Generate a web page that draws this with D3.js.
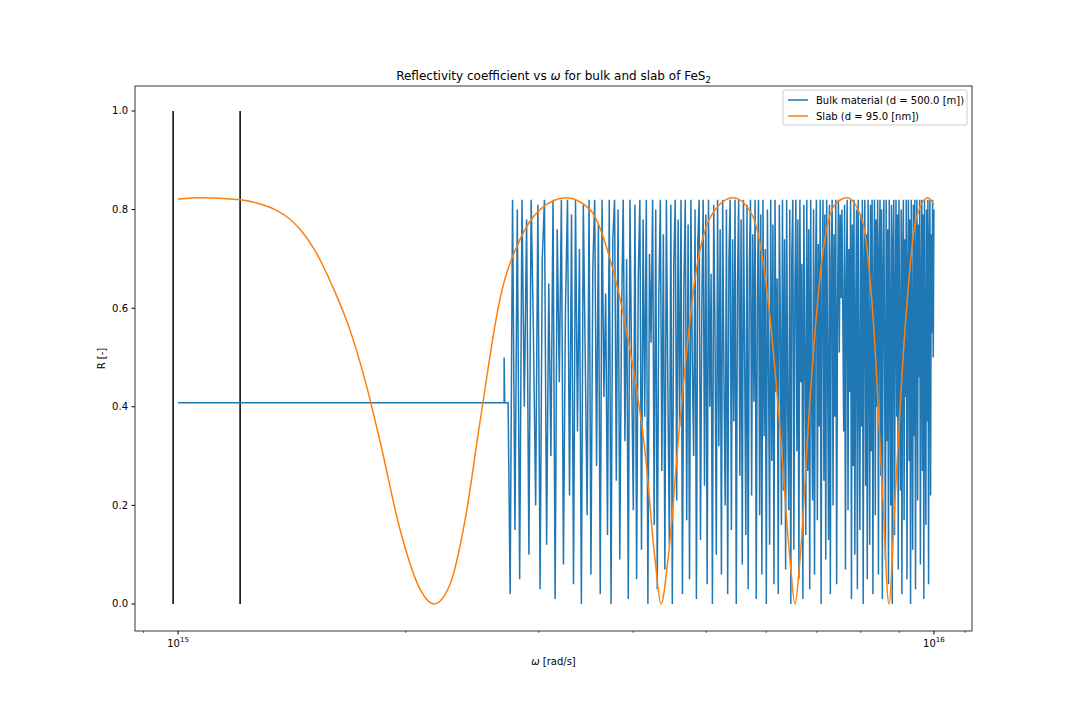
<!DOCTYPE html>
<html><head><meta charset="utf-8">
<script src="https://cdn.jsdelivr.net/npm/d3@7"></script>
<style>body{margin:0;background:#fff;font-family:"DejaVu Sans",sans-serif;}</style>
</head><body>
<svg id="chart" width="1080" height="720"></svg>
<script>
// slab curve, omega in 1e15 rad/s
var slabW = [1.00,1.069,1.208,1.28,1.344,1.40,1.450,1.52,1.60,1.689,1.77,1.850,1.967,2.090,2.18,2.290,2.397,2.509,2.667,2.835,3.012,3.261,3.508,3.728,3.963,4.147,4.276,4.355,4.448,4.613,4.830,5.085,5.423,5.745,6.031,6.257,6.450,6.549,6.650,6.855,7.111,7.396,7.672,8.032,8.330,8.562,8.720,8.880,9.155,9.467,9.818,10.0];
var slabR = [0.821,0.824,0.820,0.812,0.800,0.783,0.760,0.715,0.645,0.555,0.45,0.33,0.15,0.03,0.0,0.04,0.17,0.37,0.62,0.74,0.80,0.824,0.80,0.70,0.515,0.31,0.09,0.0,0.09,0.37,0.66,0.79,0.824,0.79,0.62,0.355,0.09,0.0,0.09,0.415,0.70,0.81,0.824,0.78,0.555,0.21,0.0,0.21,0.555,0.78,0.824,0.81];
// bulk: flat part then oscillating part
var bulkFlatW = [1.00, 2.70, 2.70, 2.705, 2.733];
var bulkFlatR = [0.408, 0.408, 0.50, 0.408, 0.408];
var bulkNoiseStart = 2.75, bulkNoiseEnd = 10.0;
var bulkNoiseR = [
0.02,0.82,0.15,0.80,0.05,0.82,0.40,0.78,0.10,0.82,0.55,0.20,0.81,0.03,0.70,0.82,0.12,0.65,0.30,0.82,
0.01,0.76,0.45,0.82,0.08,0.60,0.82,0.22,0.79,0.04,0.82,0.35,0.72,0.00,0.81,0.50,0.18,0.82,0.06,0.68,
0.82,0.28,0.77,0.02,0.82,0.42,0.63,0.14,0.82,0.00,0.74,0.82,0.25,0.80,0.09,0.58,0.82,0.33,0.70,0.01,
0.82,0.47,0.19,0.81,0.05,0.66,0.82,0.11,0.78,0.38,0.82,0.00,0.71,0.53,0.82,0.16,0.80,0.03,0.62,0.82,
0.27,0.75,0.07,0.82,0.44,0.12,0.81,0.00,0.69,0.82,0.21,0.78,0.36,0.82,0.02,0.64,0.82,0.17,0.77,0.05,
0.82,0.49,0.30,0.80,0.01,0.73,0.82,0.13,0.60,0.82,0.24,0.79,0.04,0.82,0.40,0.67,0.00,0.81,0.55,0.10,
0.82,0.32,0.76,0.06,0.82,0.46,0.20,0.80,0.02,0.70,0.82,0.15,0.74,0.37,0.82,0.00,0.65,0.82,0.26,0.78,
0.08,0.82,0.51,0.14,0.81,0.03,0.68,0.82,0.22,0.75,0.41,0.82,0.01,0.61,0.82,0.18,0.79,0.06,0.82,0.34,
0.72,0.00,0.80,0.48,0.12,0.82,0.29,0.77,0.04,0.82,0.43,0.66,0.02,0.81,0.57,0.16,0.82,0.23,0.74,0.07,
0.82,0.39,0.19,0.80,0.00,0.71,0.82,0.11,0.63,0.82,0.31,0.78,0.05,0.82,0.45,0.69,0.01,0.81,0.52,0.14,
0.82,0.27,0.76,0.03,0.82,0.42,0.21,0.80,0.06,0.67,0.82,0.17,0.73,0.36,0.82,0.00,0.64,0.82,0.25,0.79,
0.09,0.82,0.50,0.13,0.81,0.02,0.70,0.82,0.20,0.75,0.38,0.82,0.04,0.60,0.82,0.51,0.79,0.62,0.80,0.58,
0.35,0.81,0.07,0.66,0.82,0.19,0.72,0.43,0.82,0.01,0.77,0.28,0.82,0.10,0.58,0.80,0.03,0.82,0.47,0.15,
0.79,0.36,0.82,0.00,0.69,0.82,0.24,0.75,0.05,0.82,0.53,0.12,0.81,0.31,0.82,0.02,0.63,0.82,0.18,0.78,
0.40,0.82,0.06,0.71,0.82,0.26,0.80,0.01,0.67,0.82,0.45,0.09,0.82,0.33,0.76,0.04,0.82,0.56,0.20,0.81,
0.00,0.73,0.82,0.14,0.62,0.82,0.38,0.79,0.07,0.82,0.49,0.23,0.80,0.02,0.70,0.82,0.17,0.74,0.42,0.82,
0.05,0.65,0.82,0.29,0.78,0.00,0.82,0.52,0.11,0.81,0.34,0.82,0.03,0.68,0.82,0.21,0.77,0.46,0.82,0.08,
0.61,0.82,0.27,0.79,0.01,0.82,0.44,0.16,0.80,0.37,0.82,0.04,0.72,0.82,0.22,0.75,0.55,0.82,0.50,0.80];
var vLinesW = [0.985, 1.208];
var yTicks = [0, 0.2, 0.4, 0.6, 0.8, 1.0];
var minorTicks = [2,3,4,5,6,7,8,9];

var svg = d3.select('#chart');
var L = 135, R = 972, T = 86, B = 631;
var x = d3.scaleLog().domain([0.877, 11.23]).range([L, R]);
var y = d3.scaleLinear().domain([-0.0548, 1.0507]).range([B, T]);

var plot = svg.append('g');
plot.append('defs').append('clipPath').attr('id','clip').append('rect')
	.attr('x',L).attr('y',T).attr('width',R-L).attr('height',B-T);
var area = plot.append('g').attr('clip-path','url(#clip)');

// black vertical lines
area.selectAll('line.v').data(vLinesW).enter().append('line')
	.attr('x1',function(a){return x(a);}).attr('x2',function(a){return x(a);})
	.attr('y1',y(0)).attr('y2',y(1)).attr('stroke','#000').attr('stroke-width',1.5);

var line = d3.line().x(function(d){return x(d[0]);}).y(function(d){return y(d[1]);});
var bulk = bulkFlatW.map(function(w,i){return [w, bulkFlatR[i]];});
var step = (bulkNoiseEnd - bulkNoiseStart) / (bulkNoiseR.length - 1);
bulkNoiseR.forEach(function(r,i){ bulk.push([bulkNoiseStart + i*step, r]); });
area.append('path').attr('d', line(bulk)).attr('fill','none')
	.attr('stroke','#1f77b4').attr('stroke-width',1.5);

var slab = slabW.map(function(w,i){return [w, slabR[i]];});
area.append('path').attr('d', line.curve(d3.curveMonotoneX)(slab)).attr('fill','none')
	.attr('stroke','#ff7f0e').attr('stroke-width',1.5);

// axes frame
svg.append('rect').attr('x',L).attr('y',T).attr('width',R-L).attr('height',B-T)
	.attr('fill','none').attr('stroke','#000').attr('stroke-width',0.8);

// y ticks
var yt = svg.append('g');
yTicks.forEach(function(t){
	yt.append('line').attr('x1',L-3.5).attr('x2',L).attr('y1',y(t)).attr('y2',y(t)).attr('stroke','#000');
	yt.append('text').attr('x',L-7).attr('y',y(t)+3.5).attr('text-anchor','end')
		.attr('font-size',10).text(t.toFixed(1));
});
// x ticks
[1,10].forEach(function(t,i){
	svg.append('line').attr('x1',x(t)).attr('x2',x(t)).attr('y1',B).attr('y2',B+3.5).attr('stroke','#000');
	var tx = svg.append('text').attr('x',x(t)).attr('y',B+16).attr('text-anchor','middle').attr('font-size',10);
	tx.append('tspan').text('10');
	tx.append('tspan').attr('dy',-5).attr('font-size',7).text(i==0?'15':'16');
});
minorTicks.concat([0.9, 11]).forEach(function(t){
	svg.append('line').attr('x1',x(t)).attr('x2',x(t)).attr('y1',B).attr('y2',B+2).attr('stroke','#000').attr('stroke-width',0.6);
});

// labels
var xl = svg.append('text').attr('x',(L+R)/2).attr('y',665).attr('text-anchor','middle').attr('font-size',10);
xl.append('tspan').attr('font-style','italic').text('ω');
xl.append('tspan').text(' [rad/s]');
svg.append('text').attr('transform','translate(105,'+((T+B)/2)+') rotate(-90)')
	.attr('text-anchor','middle').attr('font-size',10).text('R [-]');
var ti = svg.append('text').attr('x',(L+R)/2).attr('y',80).attr('text-anchor','middle').attr('font-size',12);
ti.append('tspan').text('Reflectivity coefficient vs ');
ti.append('tspan').attr('font-style','italic').text('ω');
ti.append('tspan').text(' for bulk and slab of FeS');
ti.append('tspan').attr('font-size',8.5).attr('dy',3).text('2');

// legend
var lg = svg.append('g');
lg.append('rect').attr('x',783).attr('y',90).attr('width',184).attr('height',35).attr('rx',2)
	.attr('fill','#fff').attr('stroke','#ccc');
[['Bulk material (d = 500.0 [m])','#1f77b4'],['Slab (d = 95.0 [nm])','#ff7f0e']].forEach(function(e,i){
	var yy = 100 + i*16;
	lg.append('line').attr('x1',788).attr('x2',808).attr('y1',yy).attr('y2',yy).attr('stroke',e[1]).attr('stroke-width',1.5);
	lg.append('text').attr('x',816).attr('y',yy+3.5).attr('font-size',10).text(e[0]);
});
</script>
</body></html>
